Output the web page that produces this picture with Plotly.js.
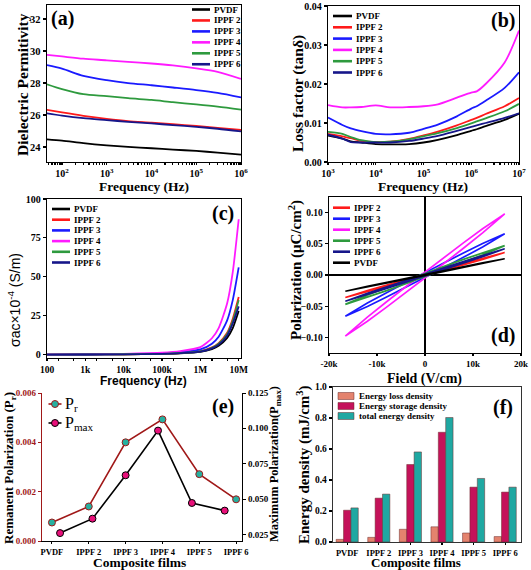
<!DOCTYPE html>
<html><head><meta charset="utf-8">
<script src="https://cdn.plot.ly/plotly-3.0.1.min.js"></script>
<style>html,body{margin:0;padding:0;background:#fff}#chart{width:531px;height:570px}</style>
</head><body><div id="chart"></div><script>
// ---------- shared ----------
const names = ['PVDF','IPPF 2','IPPF 3','IPPF 4','IPPF 5','IPPF 6'];
const colors = ['#000000','#ff1a1a','#1a1aff','#ff1aff','#2e9a3e','#16168a'];

// ---------- (a) dielectric permittivity ----------
const freqA = [46,100,300,1000,3000,1e4,3e4,1e5,3e5,1e6];
const permPVDF = [24.48,24.40,24.24,24.10,24.00,23.92,23.84,23.75,23.65,23.52];
const permIPPF2 = [26.32,26.16,25.95,25.76,25.62,25.52,25.42,25.32,25.20,25.06];
const permIPPF3 = [29.12,28.90,28.45,28.18,28.00,27.86,27.72,27.56,27.38,27.10];
const permIPPF4 = [29.76,29.66,29.52,29.42,29.32,29.22,29.10,28.92,28.70,28.26];
const permIPPF5 = [27.92,27.62,27.30,27.18,27.05,26.94,26.80,26.66,26.52,26.33];
const permIPPF6 = [26.10,25.96,25.80,25.68,25.57,25.47,25.37,25.26,25.14,24.98];

// ---------- (b) loss factor ----------
const freqB = [1e3,2e3,3e3,5e3,1e4,2e4,5e4,1e5,2e5,5e5,1e6,1.3e6,2e6,5e6,1e7];
const tanPVDF = [0.0068,0.0060,0.0053,0.0050,0.0046,0.0045,0.0046,0.0050,0.0057,0.0069,0.0080,0.0084,0.0092,0.0108,0.0124];
const tanIPPF2 = [0.0072,0.0066,0.0061,0.0054,0.0051,0.0052,0.0059,0.0068,0.0078,0.0094,0.0108,0.0113,0.0123,0.0143,0.0164];
const tanIPPF3 = [0.0114,0.0095,0.0086,0.0079,0.0072,0.0071,0.0075,0.0085,0.0096,0.0117,0.0137,0.0143,0.0157,0.0190,0.0230];
const tanIPPF4 = [0.0146,0.0140,0.0140,0.0141,0.0145,0.0140,0.0141,0.0143,0.0148,0.0165,0.0178,0.0181,0.0200,0.0255,0.0337];
const tanIPPF5 = [0.0077,0.0072,0.0064,0.0056,0.0051,0.0052,0.0058,0.0066,0.0074,0.0087,0.0099,0.0104,0.0112,0.0130,0.0149];
const tanIPPF6 = [0.0070,0.0060,0.0051,0.0050,0.0050,0.0050,0.0054,0.0060,0.0067,0.0080,0.0090,0.0094,0.0100,0.0113,0.0125];

// ---------- (c) ac conductivity ----------
const freqC = [100,1e3,1e4,1e5,3e5,1e6,2e6,3e6,5e6,7e6,1e7];
const sigPVDF = [0.01,0.03,0.15,0.4,0.8,1.7,3.5,5.6,10.7,17,28];
const sigIPPF2 = [0.01,0.04,0.2,0.5,1.0,2.2,4.6,7.4,14,23,37];
const sigIPPF3 = [0.01,0.06,0.3,0.8,1.5,3.3,7,11.5,22,35,56];
const sigIPPF4 = [0.02,0.1,0.5,1.2,2.2,4.8,10.5,17,33,53,87];
const sigIPPF5 = [0.01,0.04,0.2,0.5,1.0,2.1,4.3,7,13.3,21.5,35];
const sigIPPF6 = [0.01,0.04,0.18,0.45,0.9,1.9,4,6.4,12.3,20,31];
const sigTickVals = [100,1e3,1e4,1e5,1e6,1e7];
const sigTickText = ['100','1k','10k','100k','1M','10M'];

// ---------- (d) P-E loops ----------
const fieldLoop = [-16600,-12000,-8000,-4000,0,4000,8000,12000,16600,12000,8000,4000,0,-4000,-8000,-12000,-16600];
const polIPPF2 = [-0.036,-0.027,-0.0185,-0.0101,-0.0014,0.0073,0.0161,0.025,0.036,0.027,0.0185,0.0101,0.0014,-0.0073,-0.0161,-0.025,-0.036];
const polIPPF3 = [-0.066,-0.0505,-0.0353,-0.0198,-0.004,0.012,0.0283,0.0449,0.066,0.0505,0.0353,0.0198,0.004,-0.012,-0.0283,-0.0449,-0.066];
const polIPPF4 = [-0.098,-0.0742,-0.0515,-0.0284,-0.0049,0.0188,0.0429,0.0674,0.098,0.0742,0.0515,0.0284,0.0049,-0.0188,-0.0429,-0.0674,-0.098];
const polIPPF5 = [-0.047,-0.0359,-0.0251,-0.0139,-0.0027,0.0087,0.0203,0.0321,0.047,0.0359,0.0251,0.0139,0.0027,-0.0087,-0.0203,-0.0321,-0.047];
const polIPPF6 = [-0.042,-0.0316,-0.0217,-0.0117,-0.0017,0.0085,0.0187,0.0292,0.042,0.0316,0.0217,0.0117,0.0017,-0.0085,-0.0187,-0.0292,-0.042];
const polPVDF = [-0.026,-0.0193,-0.0132,-0.007,-0.00075,0.0056,0.0118,0.0183,0.026,0.0193,0.0132,0.007,0.00075,-0.0056,-0.0118,-0.0183,-0.026];
const fieldTickVals = [-20000,-10000,0,10000,20000];
const fieldTickText = ['-20k','-10k','0','10k','20k'];
const loopNames = ['IPPF 2','IPPF 3','IPPF 4','IPPF 5','IPPF 6','PVDF'];
const loopColors = ['#ff1a1a','#1a1aff','#ff1aff','#2e9a3e','#16168a','#000000'];

// ---------- (e) Pr / Pmax ----------
const films = ['PVDF','IPPF 2','IPPF 3','IPPF 4','IPPF 5','IPPF 6'];
const prVals = [0.00075,0.0014,0.0040,0.00493,0.00271,0.00169];
const pmaxVals = [0.0259,0.0361,0.0668,0.0984,0.0472,0.0418];
const pmaxPos = [0.22,1.1,2.0,2.88,3.8,4.69];

// ---------- (f) energy densities ----------
const lossDens = [0.017,0.03,0.082,0.098,0.058,0.035];
const storeDens = [0.205,0.283,0.5,0.708,0.354,0.322];
const totalDens = [0.22,0.309,0.581,0.803,0.41,0.354];
const energyNames = ['Energy loss density','Energy storage density','total energy density'];
const energyColors = ['#e4836e','#c4125a','#1fa8a2'];

// ---------- helpers ----------
const W = 531, H = 570;
const px = x => x / W;
const py = y => 1 - y / H;
const SERIF = 'Liberation Serif, Times New Roman, serif';
const SANS = 'Liberation Sans, Arial, sans-serif';
const tickFont = (s, c) => ({family: SERIF, size: s || 10, color: c || '#000', weight: 'bold'});
const shapes = [];
const annotations = [];
function txt(x, y, text, opt) {
  annotations.push(Object.assign({xref:'paper', yref:'paper', x: px(x), y: py(y), text: text, showarrow:false,
    xanchor:'center', yanchor:'middle', font:{family:SERIF, size:15, color:'#000', weight:'bold'}}, opt || {}));
}
function lineLegend(list, cols, x0, x1, y0, dy, size) {
  list.forEach((n, i) => {
    const y = y0 + i * dy;
    shapes.push({type:'line', xref:'paper', yref:'paper', x0:px(x0), x1:px(x1), y0:py(y), y1:py(y), line:{color:cols[i], width:2.6}});
    txt(x1 + 2, y, n, {xanchor:'left', font:{family:SERIF, size:size || 9, color:'#000', weight:'bold'}});
  });
}

const traces = [];
const setA = [permPVDF, permIPPF2, permIPPF3, permIPPF4, permIPPF5, permIPPF6];
setA.forEach((v, i) => traces.push({x: freqA, y: v, xaxis:'x', yaxis:'y', mode:'lines', line:{color:colors[i], width:1.8, shape:'spline', smoothing:0.8}, showlegend:false}));
const setB = [tanPVDF, tanIPPF2, tanIPPF3, tanIPPF4, tanIPPF5, tanIPPF6];
setB.forEach((v, i) => traces.push({x: freqB, y: v, xaxis:'x2', yaxis:'y2', mode:'lines', line:{color:colors[i], width:1.8, shape:'spline', smoothing:0.8}, showlegend:false}));
const setC = [sigPVDF, sigIPPF2, sigIPPF3, sigIPPF4, sigIPPF5, sigIPPF6];
setC.forEach((v, i) => traces.push({x: freqC, y: v, xaxis:'x3', yaxis:'y3', mode:'lines', line:{color:colors[i], width:1.8, shape:'spline', smoothing:0.6}, showlegend:false}));
const setD = [polIPPF2, polIPPF3, polIPPF4, polIPPF5, polIPPF6, polPVDF];
setD.forEach((v, i) => traces.push({x: fieldLoop, y: v, xaxis:'x4', yaxis:'y4', mode:'lines', line:{color:loopColors[i], width:1.7}, showlegend:false}));

traces.push({x: films.map((f, i) => i), y: prVals, xaxis:'x5', yaxis:'y5', mode:'lines+markers',
  line:{color:'#a01818', width:1.6}, marker:{size:7, color:'#26b0a0', line:{color:'#a01818', width:1}}, showlegend:false});
traces.push({x: pmaxPos, y: pmaxVals, xaxis:'x5', yaxis:'y7', mode:'lines+markers',
  line:{color:'#000', width:1.6}, marker:{size:7, color:'#e8107a', line:{color:'#000', width:1}}, showlegend:false});

[lossDens, storeDens, totalDens].forEach((v, i) => traces.push({type:'bar', x: films, y: v, xaxis:'x6', yaxis:'y6',
  marker:{color:energyColors[i], line:{color:'#6a2a2a', width:0.5}}, showlegend:false}));

// ---------- axes ----------
const frame = {showline:true, linecolor:'#000', linewidth:1.3, mirror:true, showgrid:false, zeroline:false, ticks:'outside', ticklen:3, tickwidth:1.2, tickcolor:'#000'};
const layout = {
  width: W, height: H, margin:{l:0, r:0, t:0, b:0}, paper_bgcolor:'#fff', plot_bgcolor:'#fff', showlegend:false,
  barmode:'group', bargap:0.3, bargroupgap:0,
  xaxis: Object.assign({}, frame, {domain:[px(47), px(241)], anchor:'y', type:'log', range:[1.665, 6], dtick:1, exponentformat:'power', ticklen:2, tickfont:tickFont(8), minor:{ticks:'outside', ticklen:2, tickcolor:'#000'}}),
  yaxis: Object.assign({}, frame, {domain:[py(162), py(5)], anchor:'x', range:[23.06, 32.88], dtick:2, tickfont:tickFont(10.5)}),
  xaxis2: Object.assign({}, frame, {domain:[px(328), px(519)], anchor:'y2', type:'log', range:[3, 7], dtick:1, exponentformat:'power', ticklen:2, tickfont:tickFont(8), minor:{ticks:'outside', ticklen:2, tickcolor:'#000'}}),
  yaxis2: Object.assign({}, frame, {domain:[py(162), py(6)], anchor:'x2', range:[0, 0.04], dtick:0.01, tickformat:'.2f', tickfont:tickFont(10)}),
  xaxis3: Object.assign({}, frame, {domain:[px(47), px(241)], anchor:'y3', type:'log', range:[2, 7.06], tickvals:sigTickVals, ticktext:sigTickText, ticklen:2, tickfont:tickFont(9.5), minor:{ticks:'outside', ticklen:2, tickcolor:'#000'}}),
  yaxis3: Object.assign({}, frame, {domain:[py(358), py(199)], anchor:'x3', range:[-2.2, 100], dtick:25, tickfont:tickFont(10)}),
  xaxis4: Object.assign({}, frame, {domain:[px(329), px(521)], anchor:'y4', range:[-20000, 20000], tickvals:fieldTickVals, ticktext:fieldTickText, ticklen:2, tickfont:tickFont(9), zeroline:true, zerolinecolor:'#000', zerolinewidth:1.2}),
  yaxis4: Object.assign({}, frame, {domain:[py(353), py(197)], anchor:'x4', range:[-0.125, 0.125], tickvals:[-0.1,-0.05,0,0.05,0.1], tickformat:'.2f', tickfont:tickFont(9.5), zeroline:true, zerolinecolor:'#000', zerolinewidth:1.2}),
  xaxis5: {domain:[px(42), px(242)], anchor:'y5', range:[-0.27, 5.16], tickvals:[0,1,2,3,4,5], ticktext:films, tickangle:0, tickfont:tickFont(8.5), showline:true, linecolor:'#000', linewidth:1.3, ticks:'outside', ticklen:2, tickcolor:'#000', showgrid:false, zeroline:false},
  yaxis5: {domain:[py(541), py(393)], anchor:'x5', range:[0, 0.006], dtick:0.002, tickformat:'.3f', tickfont:tickFont(9, '#a01818'), showline:true, linecolor:'#a01818', linewidth:1.3, ticks:'outside', ticklen:3, tickcolor:'#a01818', showgrid:false, zeroline:false},
  yaxis7: {overlaying:'y5', side:'right', anchor:'x5', range:[0.0203, 0.125], tickvals:[0.025,0.05,0.075,0.1,0.125], tickformat:'.3f', tickfont:tickFont(9), showline:true, linecolor:'#000', linewidth:1.3, ticks:'outside', ticklen:3, tickcolor:'#000', showgrid:false, zeroline:false},
  xaxis6: Object.assign({}, frame, {domain:[px(333), px(521)], anchor:'y6', type:'category', range:[-0.45, 5.5], tickangle:0, ticklen:2, tickfont:tickFont(8.5), linecolor:'#333'}),
  yaxis6: Object.assign({}, frame, {domain:[py(542), py(387)], anchor:'x6', range:[0, 1.0], dtick:0.2, tickformat:'.1f', tickfont:tickFont(9.5), linecolor:'#333'})
};

// ---------- legends ----------
lineLegend(names, colors, 192, 210, 9.5, 10.95);
lineLegend(names, colors, 333, 352, 16, 11.3);
lineLegend(names, colors, 52, 70, 209, 10.7);
lineLegend(loopNames, loopColors, 333, 350, 207.7, 11);
// (e) legend
[['P<sub>r</sub>', '#a01818', '#26b0a0', 404], ['P<sub>max</sub>', '#000', '#e8107a', 423]].forEach(r => {
  shapes.push({type:'line', xref:'paper', yref:'paper', x0:px(48.5), x1:px(61.5), y0:py(r[3]), y1:py(r[3]), line:{color:r[1], width:1.6}});
  shapes.push({type:'circle', xref:'paper', yref:'paper', x0:px(51.5), x1:px(58.5), y0:py(r[3]+3.5), y1:py(r[3]-3.5), fillcolor:r[2], line:{color:r[1], width:1}});
  txt(63, r[3], r[0], {xanchor:'left', font:{family:SERIF, size:16, color:'#000'}});
});
// (f) legend
energyNames.forEach((n, i) => {
  const y = 396 + i * 10;
  shapes.push({type:'rect', xref:'paper', yref:'paper', x0:px(338), x1:px(354), y0:py(y+3.5), y1:py(y-3.5), fillcolor:energyColors[i], line:{color:'#6a2a2a', width:0.5}});
  txt(357, y, n, {xanchor:'left', font:{family:SERIF, size:9, color:'#000', weight:'bold'}});
});

// ---------- titles & panel labels ----------
txt(22, 85, 'Dielectric Permitivity', {textangle:-90, font:{family:SERIF, size:15.5, color:'#000', weight:'bold'}});
txt(144, 186, 'Frequency (Hz)', {font:{family:SERIF, size:13.5, color:'#000', weight:'bold'}});
txt(298, 94, 'Loss factor (tanδ)', {textangle:-90, font:{family:SERIF, size:15.5, color:'#000', weight:'bold'}});
txt(423, 186, 'Frequency (Hz)', {font:{family:SERIF, size:13.5, color:'#000', weight:'bold'}});
txt(14, 300, 'σac×10<sup>-4</sup> (S/m)', {textangle:-90, font:{family:SANS, size:14, color:'#000'}});
txt(143, 381, 'Frequency (Hz)', {font:{family:SANS, size:12, color:'#000', weight:'bold'}});
txt(296, 270, 'Polarization (μC/cm<sup>2</sup>)', {textangle:-90, font:{family:SERIF, size:15, color:'#000', weight:'bold'}});
txt(424, 379, 'Field (V/cm)', {font:{family:SERIF, size:14, color:'#000', weight:'bold'}});
txt(9, 468, 'Remanent Polarization (P<sub>r</sub>)', {textangle:-90, font:{family:SERIF, size:13, color:'#000', weight:'bold'}});
txt(139, 562, 'Composite films', {font:{family:SERIF, size:13.5, color:'#000', weight:'bold'}});
txt(275, 464, 'Maximum Polarization(P<sub>max</sub>)', {textangle:-90, font:{family:SERIF, size:12.5, color:'#000', weight:'bold'}});
txt(303, 465, 'Energy density (mJ/cm<sup>3</sup>)', {textangle:-90, font:{family:SERIF, size:15, color:'#000', weight:'bold'}});
txt(416, 562, 'Composite films', {font:{family:SERIF, size:13, color:'#000', weight:'bold'}});
const lab = {family:SERIF, size:20, color:'#000', weight:'bold'};
txt(62, 19, '(a)', {font:lab});
txt(503, 20, '(b)', {font:lab});
txt(223, 213, '(c)', {font:lab});
txt(503, 335, '(d)', {font:lab});
txt(223, 406, '(e)', {font:lab});
txt(503, 407, '(f)', {font:lab});

layout.shapes = shapes;
layout.annotations = annotations;
Plotly.newPlot('chart', traces, layout, {staticPlot:true, displayModeBar:false});
</script></body></html>
